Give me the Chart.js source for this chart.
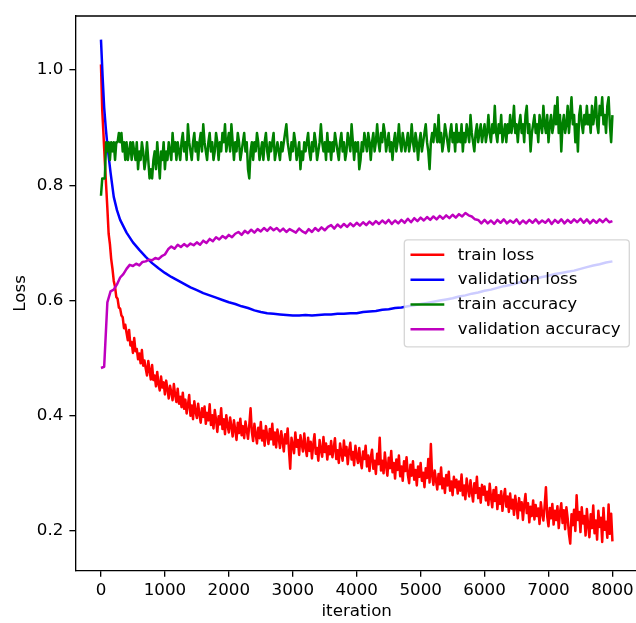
<!DOCTYPE html>
<html>
<head>
<meta charset="utf-8">
<script src="https://cdn.jsdelivr.net/npm/chart.js@4/dist/chart.umd.min.js"></script>
<style>
  html, body { margin: 0; padding: 0; background: #fff; overflow: hidden; }
  #wrap { width: 640px; height: 623px; }
</style>
</head>
<body>
<div id="wrap"><canvas id="c" width="640" height="623"></canvas></div>
<script>
// ---- data ----
// training metrics were logged every 20 iterations (one row = 400 iterations)
const trainStep = 20;
const trainLoss = [
  1.010, 0.930, 0.887, 0.842, 0.801, 0.760, 0.716, 0.698, 0.672, 0.655, 0.634, 0.624, 0.606, 0.603, 0.588, 0.586, 0.574, 0.571, 0.552, 0.558,
  0.544, 0.531, 0.549, 0.522, 0.528, 0.509, 0.535, 0.512, 0.516, 0.498, 0.508, 0.491, 0.514, 0.487, 0.496, 0.482, 0.470, 0.495, 0.479, 0.463,
  0.488, 0.462, 0.470, 0.451, 0.476, 0.455, 0.444, 0.468, 0.449, 0.458, 0.437, 0.461, 0.446, 0.430, 0.452, 0.441, 0.427, 0.455, 0.436, 0.424,
  0.447, 0.421, 0.433, 0.415, 0.440, 0.412, 0.428, 0.404, 0.419, 0.436, 0.400, 0.418, 0.394, 0.425, 0.407, 0.396, 0.421, 0.402, 0.388, 0.413,
  0.398, 0.416, 0.386, 0.405, 0.392, 0.420, 0.384, 0.401, 0.378, 0.410, 0.393, 0.372, 0.399, 0.385, 0.413, 0.377, 0.394, 0.368, 0.401, 0.383,
  0.371, 0.397, 0.381, 0.364, 0.392, 0.376, 0.358, 0.388, 0.370, 0.395, 0.366, 0.382, 0.361, 0.390, 0.375, 0.360, 0.384, 0.413, 0.372, 0.356,
  0.386, 0.368, 0.352, 0.379, 0.361, 0.389, 0.357, 0.374, 0.348, 0.382, 0.366, 0.351, 0.377, 0.359, 0.386, 0.350, 0.371, 0.345, 0.376, 0.362,
  0.344, 0.373, 0.356, 0.338, 0.368, 0.352, 0.378, 0.341, 0.308, 0.362, 0.349, 0.335, 0.371, 0.346, 0.358, 0.332, 0.366, 0.351, 0.338, 0.369,
  0.345, 0.330, 0.362, 0.339, 0.355, 0.326, 0.350, 0.368, 0.334, 0.344, 0.322, 0.358, 0.340, 0.329, 0.363, 0.337, 0.352, 0.324, 0.347, 0.333,
  0.356, 0.328, 0.343, 0.361, 0.325, 0.340, 0.318, 0.352, 0.335, 0.322, 0.357, 0.331, 0.346, 0.316, 0.339, 0.353, 0.324, 0.337, 0.314, 0.348,
  0.330, 0.318, 0.344, 0.321, 0.309, 0.338, 0.325, 0.348, 0.312, 0.331, 0.304, 0.327, 0.341, 0.308, 0.322, 0.299, 0.334, 0.316, 0.362, 0.305,
  0.322, 0.300, 0.336, 0.313, 0.296, 0.327, 0.309, 0.339, 0.302, 0.318, 0.291, 0.324, 0.306, 0.331, 0.295, 0.312, 0.287, 0.321, 0.304, 0.328,
  0.298, 0.283, 0.315, 0.296, 0.321, 0.289, 0.306, 0.279, 0.312, 0.294, 0.318, 0.287, 0.301, 0.276, 0.309, 0.292, 0.325, 0.284, 0.351, 0.296,
  0.280, 0.305, 0.288, 0.272, 0.299, 0.281, 0.310, 0.274, 0.291, 0.266, 0.297, 0.279, 0.303, 0.270, 0.286, 0.262, 0.294, 0.276, 0.289, 0.265,
  0.286, 0.270, 0.298, 0.262, 0.279, 0.255, 0.291, 0.273, 0.260, 0.288, 0.268, 0.251, 0.283, 0.266, 0.294, 0.257, 0.274, 0.249, 0.280, 0.263,
  0.277, 0.253, 0.268, 0.245, 0.282, 0.259, 0.241, 0.271, 0.252, 0.276, 0.238, 0.262, 0.247, 0.269, 0.235, 0.258, 0.273, 0.242, 0.260, 0.233,
  0.265, 0.239, 0.254, 0.228, 0.261, 0.244, 0.222, 0.257, 0.236, 0.250, 0.219, 0.246, 0.264, 0.231, 0.248, 0.215, 0.242, 0.226, 0.253, 0.220,
  0.245, 0.226, 0.239, 0.212, 0.250, 0.231, 0.218, 0.244, 0.276, 0.225, 0.208, 0.240, 0.222, 0.247, 0.211, 0.235, 0.219, 0.243, 0.205, 0.232,
  0.248, 0.214, 0.236, 0.203, 0.241, 0.222, 0.195, 0.178, 0.229, 0.210, 0.237, 0.200, 0.262, 0.219, 0.233, 0.198, 0.241, 0.213, 0.226, 0.192,
  0.238, 0.210, 0.189, 0.229, 0.205, 0.244, 0.196, 0.218, 0.185, 0.235, 0.207, 0.223, 0.181, 0.240, 0.202, 0.216, 0.188, 0.246, 0.195, 0.230,
  0.182
];
const trainAccuracy = [
  0.782, 0.812, 0.812, 0.812, 0.875, 0.859, 0.875, 0.844, 0.875, 0.859, 0.875, 0.844, 0.875, 0.875, 0.891, 0.875, 0.891, 0.859, 0.875, 0.844,
  0.875, 0.844, 0.859, 0.875, 0.844, 0.875, 0.859, 0.844, 0.875, 0.828, 0.859, 0.844, 0.875, 0.859, 0.828, 0.844, 0.875, 0.844, 0.812, 0.828,
  0.812, 0.844, 0.859, 0.828, 0.875, 0.844, 0.812, 0.859, 0.844, 0.875, 0.828, 0.859, 0.844, 0.875, 0.859, 0.844, 0.891, 0.859, 0.875, 0.844,
  0.875, 0.859, 0.844, 0.875, 0.891, 0.859, 0.875, 0.844, 0.906, 0.875, 0.859, 0.844, 0.875, 0.891, 0.859, 0.875, 0.844, 0.875, 0.891, 0.859,
  0.906, 0.875, 0.859, 0.844, 0.875, 0.891, 0.859, 0.875, 0.844, 0.859, 0.891, 0.875, 0.844, 0.875, 0.859, 0.891, 0.875, 0.906, 0.859, 0.875,
  0.891, 0.859, 0.906, 0.875, 0.844, 0.875, 0.859, 0.891, 0.875, 0.844, 0.859, 0.875, 0.891, 0.859, 0.875, 0.828, 0.812, 0.859, 0.875, 0.844,
  0.875, 0.859, 0.891, 0.875, 0.844, 0.859, 0.875, 0.844, 0.875, 0.891, 0.859, 0.844, 0.875, 0.859, 0.875, 0.891, 0.844, 0.859, 0.875, 0.859,
  0.844, 0.875, 0.859, 0.875, 0.891, 0.906, 0.875, 0.859, 0.844, 0.875, 0.859, 0.891, 0.875, 0.844, 0.859, 0.875, 0.828, 0.859, 0.844, 0.875,
  0.859, 0.875, 0.891, 0.859, 0.844, 0.875, 0.859, 0.891, 0.875, 0.844, 0.859, 0.875, 0.906, 0.875, 0.859, 0.875, 0.844, 0.891, 0.859, 0.875,
  0.844, 0.875, 0.859, 0.891, 0.875, 0.859, 0.844, 0.875, 0.891, 0.859, 0.875, 0.844, 0.859, 0.891, 0.875, 0.859, 0.906, 0.875, 0.844, 0.875,
  0.859, 0.875, 0.828, 0.844, 0.875, 0.859, 0.891, 0.875, 0.859, 0.891, 0.875, 0.844, 0.875, 0.891, 0.859, 0.875, 0.906, 0.875, 0.859, 0.891,
  0.875, 0.906, 0.891, 0.859, 0.875, 0.891, 0.859, 0.875, 0.844, 0.875, 0.891, 0.859, 0.875, 0.906, 0.875, 0.859, 0.891, 0.875, 0.859, 0.875,
  0.891, 0.859, 0.875, 0.906, 0.875, 0.859, 0.891, 0.875, 0.844, 0.875, 0.891, 0.859, 0.875, 0.891, 0.906, 0.875, 0.859, 0.828, 0.875, 0.891,
  0.875, 0.906, 0.891, 0.875, 0.922, 0.875, 0.891, 0.859, 0.875, 0.906, 0.891, 0.875, 0.859, 0.891, 0.906, 0.875, 0.891, 0.859, 0.906, 0.875,
  0.891, 0.875, 0.906, 0.859, 0.891, 0.875, 0.906, 0.891, 0.875, 0.922, 0.891, 0.875, 0.859, 0.891, 0.906, 0.875, 0.891, 0.906, 0.875, 0.891,
  0.906, 0.875, 0.891, 0.922, 0.891, 0.875, 0.906, 0.891, 0.938, 0.891, 0.875, 0.906, 0.891, 0.922, 0.875, 0.891, 0.906, 0.875, 0.906, 0.891,
  0.922, 0.891, 0.906, 0.938, 0.891, 0.906, 0.875, 0.906, 0.922, 0.891, 0.906, 0.875, 0.922, 0.938, 0.891, 0.906, 0.859, 0.891, 0.906, 0.922,
  0.891, 0.906, 0.875, 0.922, 0.906, 0.891, 0.938, 0.906, 0.891, 0.922, 0.875, 0.906, 0.922, 0.891, 0.906, 0.938, 0.906, 0.953, 0.891, 0.922,
  0.859, 0.906, 0.922, 0.891, 0.906, 0.938, 0.891, 0.922, 0.953, 0.906, 0.922, 0.875, 0.906, 0.859, 0.922, 0.938, 0.906, 0.891, 0.922, 0.906,
  0.938, 0.906, 0.922, 0.891, 0.938, 0.906, 0.922, 0.953, 0.906, 0.891, 0.938, 0.922, 0.953, 0.906, 0.922, 0.891, 0.938, 0.953, 0.906, 0.875,
  0.922
];

// validation loss, evaluated densely at the start
const valLossIters = [
  0, 25, 50, 75, 100, 150, 200, 250, 300,
  400, 500, 600, 700, 800, 900, 1000, 1100, 1200, 1300, 1400, 1500,
  1600, 1700, 1800, 1900, 2000, 2100, 2200, 2300, 2400, 2500,
  2600, 2700, 2800, 2900, 3000, 3100, 3200, 3300, 3400, 3500,
  3600, 3700, 3800, 3900, 4000, 4100, 4200, 4300, 4400, 4500,
  4600, 4700, 4800, 4900, 5000, 5100, 5200, 5300, 5400, 5500,
  5600, 5700, 5800, 5900, 6000, 6100, 6200, 6300, 6400, 6500,
  6600, 6700, 6800, 6900, 7000, 7100, 7200, 7300, 7400, 7500,
  7600, 7700, 7800, 7900, 8000
];
const valLoss = [
  1.053, 0.990, 0.935, 0.900, 0.870, 0.822, 0.780, 0.757, 0.740,
  0.718, 0.701, 0.688, 0.676, 0.665, 0.656, 0.648, 0.641, 0.635, 0.629, 0.623, 0.618,
  0.613, 0.609, 0.605, 0.601, 0.597, 0.594, 0.590, 0.587, 0.583, 0.580,
  0.578, 0.577, 0.576, 0.575, 0.574, 0.574, 0.575, 0.574, 0.575, 0.576,
  0.576, 0.577, 0.577, 0.578, 0.578, 0.580, 0.581, 0.582, 0.584, 0.585,
  0.587, 0.588, 0.590, 0.592, 0.594, 0.596, 0.598, 0.600, 0.602, 0.604,
  0.607, 0.609, 0.612, 0.614, 0.617, 0.619, 0.622, 0.625, 0.627, 0.630,
  0.633, 0.636, 0.638, 0.641, 0.643, 0.646, 0.648, 0.650, 0.652, 0.655,
  0.658, 0.661, 0.663, 0.666, 0.668
];

// validation accuracy, every 50 iterations (one row = 500 iterations)
const valAccStep = 50;
const valAccuracy = [
  0.483, 0.485, 0.597, 0.616, 0.619, 0.628, 0.640, 0.646, 0.655, 0.662,
  0.660, 0.664, 0.661, 0.667, 0.668, 0.671, 0.670, 0.674, 0.672, 0.677,
  0.680, 0.689, 0.694, 0.690, 0.697, 0.693, 0.698, 0.694, 0.699, 0.696,
  0.701, 0.697, 0.704, 0.700, 0.707, 0.703, 0.710, 0.706, 0.712, 0.708,
  0.714, 0.710, 0.716, 0.719, 0.714, 0.721, 0.717, 0.723, 0.718, 0.724,
  0.720, 0.726, 0.721, 0.727, 0.722, 0.726, 0.720, 0.725, 0.719, 0.724,
  0.721, 0.718, 0.725, 0.720, 0.717, 0.724, 0.719, 0.726, 0.721, 0.727,
  0.722, 0.728, 0.731, 0.725, 0.732, 0.727, 0.733, 0.728, 0.734, 0.729,
  0.735, 0.730, 0.736, 0.731, 0.737, 0.732, 0.738, 0.733, 0.739, 0.734,
  0.740, 0.733, 0.739, 0.734, 0.740, 0.735, 0.742, 0.736, 0.743, 0.738,
  0.744, 0.739, 0.745, 0.740, 0.746, 0.741, 0.747, 0.742, 0.748, 0.743,
  0.749, 0.744, 0.750, 0.746, 0.752, 0.748, 0.746, 0.741, 0.740, 0.734,
  0.740, 0.734, 0.739, 0.733, 0.740, 0.735, 0.741, 0.734, 0.739, 0.735,
  0.741, 0.733, 0.739, 0.734, 0.740, 0.735, 0.741, 0.734, 0.739, 0.735,
  0.741, 0.733, 0.740, 0.735, 0.741, 0.734, 0.740, 0.735, 0.741, 0.736,
  0.742, 0.735, 0.741, 0.734, 0.740, 0.735, 0.741, 0.736, 0.742, 0.736,
  0.738
];

const seriesLabels = ['train loss', 'validation loss', 'train accuracy', 'validation accuracy'];
const xTicks = [0, 1000, 2000, 3000, 4000, 5000, 6000, 7000, 8000];
const yTicks = [0.2, 0.4, 0.6, 0.8, 1.0];

// ---- chart ----
const FONT = 'DejaVu Sans';
const FS = 16.7;

const stepped = (vals, step) => vals.map((v, i) => ({ x: i * step, y: v }));
const paired = (xs, ys) => ys.map((v, i) => ({ x: xs[i], y: v }));

const colors = ['#ff0000', '#0000ff', '#008000', '#bf00bf'];

// top/right spines of the axes box
const framePlugin = {
  id: 'frame',
  afterDatasetsDraw(chart) {
    const { ctx, chartArea: a } = chart;
    ctx.save();
    ctx.strokeStyle = '#000';
    ctx.lineWidth = 1.33;
    ctx.beginPath();
    ctx.moveTo(a.left, a.top);
    ctx.lineTo(a.right, a.top);
    ctx.lineTo(a.right, a.bottom);
    ctx.stroke();
    ctx.restore();
  }
};

// boxed, semi-transparent legend at the right middle of the axes
const legendPlugin = {
  id: 'boxLegend',
  afterDraw(chart) {
    const { ctx, chartArea: a } = chart;
    const w = 225, h = 107, r = 3.3;
    const x0 = a.right - 8.7 - w;
    const y0 = (a.top + a.bottom) / 2 - h / 2;
    ctx.save();
    ctx.beginPath();
    ctx.moveTo(x0 + r, y0);
    ctx.lineTo(x0 + w - r, y0);
    ctx.arcTo(x0 + w, y0, x0 + w, y0 + r, r);
    ctx.lineTo(x0 + w, y0 + h - r);
    ctx.arcTo(x0 + w, y0 + h, x0 + w - r, y0 + h, r);
    ctx.lineTo(x0 + r, y0 + h);
    ctx.arcTo(x0, y0 + h, x0, y0 + h - r, r);
    ctx.lineTo(x0, y0 + r);
    ctx.arcTo(x0, y0, x0 + r, y0, r);
    ctx.closePath();
    ctx.fillStyle = 'rgba(255,255,255,0.8)';
    ctx.fill();
    ctx.strokeStyle = 'rgba(204,204,204,0.8)';
    ctx.lineWidth = 1.33;
    ctx.stroke();

    ctx.font = FS + 'px "' + FONT + '"';
    ctx.textBaseline = 'middle';
    ctx.textAlign = 'left';
    chart.data.datasets.forEach((ds, i) => {
      const cy = y0 + 15 + i * 24.8;
      ctx.strokeStyle = ds.borderColor;
      ctx.lineWidth = 2.5;
      ctx.beginPath();
      ctx.moveTo(x0 + 6.2, cy);
      ctx.lineTo(x0 + 40, cy);
      ctx.stroke();
      ctx.fillStyle = '#000';
      ctx.fillText(ds.label, x0 + 53.5, cy + 0.5);
    });
    ctx.restore();
  }
};

const seriesData = [
  stepped(trainLoss, trainStep),
  paired(valLossIters, valLoss),
  stepped(trainAccuracy, trainStep),
  stepped(valAccuracy, valAccStep)
];

new Chart(document.getElementById('c'), {
  type: 'line',
  data: {
    datasets: seriesData.map((d, i) => ({
      label: seriesLabels[i],
      data: d,
      borderColor: colors[i],
      backgroundColor: colors[i],
      borderWidth: 2.5,
      pointRadius: 0,
      tension: 0,
      fill: false,
      order: 3 - i
    }))
  },
  options: {
    responsive: false,
    animation: false,
    devicePixelRatio: 1,
    layout: { padding: { left: 0, right: 2, top: 12.2, bottom: 0 } },
    plugins: { legend: { display: false }, tooltip: { enabled: false } },
    elements: { line: { borderJoinStyle: 'round', borderCapStyle: 'butt' } },
    scales: {
      x: {
        type: 'linear',
        min: -400,
        max: 8400,
        afterBuildTicks: s => { s.ticks = xTicks.map(v => ({ value: v })); },
        afterFit: s => { s.height = 52.3; },
        grid: { drawOnChartArea: false, drawTicks: true, tickLength: 6, color: '#000', lineWidth: 1.33 },
        border: { display: true, color: '#000', width: 1.33 },
        ticks: {
          color: '#000', padding: 3.5, maxRotation: 0, autoSkip: false,
          font: { family: FONT, size: FS },
          callback: v => String(v)
        },
        title: {
          display: true, text: 'iteration', color: '#000',
          font: { family: FONT, size: FS },
          padding: { top: 0, bottom: 1 }
        }
      },
      y: {
        type: 'linear',
        min: 0.131,
        max: 1.094,
        afterBuildTicks: s => { s.ticks = yTicks.map(v => ({ value: v })); },
        afterFit: s => { s.width = 75.4; },
        grid: { drawOnChartArea: false, drawTicks: true, tickLength: 6, color: '#000', lineWidth: 1.33 },
        border: { display: true, color: '#000', width: 1.33 },
        ticks: {
          color: '#000', padding: 6, autoSkip: false,
          font: { family: FONT, size: FS },
          callback: v => v.toFixed(1)
        },
        title: {
          display: true, text: 'Loss', color: '#000',
          font: { family: FONT, size: FS },
          padding: { top: 10.5, bottom: 0 }
        }
      }
    }
  },
  plugins: [framePlugin, legendPlugin]
});
</script>
</body>
</html>
